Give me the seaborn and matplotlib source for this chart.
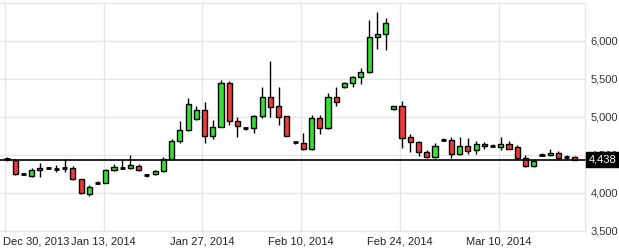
import matplotlib
matplotlib.use("Agg")
import matplotlib.pyplot as plt
import seaborn as sns
import numpy as np
import pandas as pd

# ---- data ----
opens = [4445, 4438, 4247, 4227, 4303, 4327, 4322, 4327, 4325, 4180,
         3991, 4129, 4127, 4298, 4330, 4325, 4359, 4245, 4246, 4285,
         4451, 4688, 4825, 4970, 5088, 4750, 4868, 5443, 4943, 4855,
         4855, 5009, 5259, 5141, 5009, 4670, 4654, 4575, 4983, 4851,
         5259, 5391, 5443, 5522, 5592, 6049, 6092, 5101, 5141, 4737,
         4667, 4535, 4470, 4699, 4701, 4509, 4622, 4561, 4644, 4620,
         4601, 4644, 4601, 4464, 4355, 4502, 4496, 4530, 4472, 4475]
closes = [4443, 4246, 4245, 4298, 4329, 4325, 4320, 4325, 4184, 3996,
          4079, 4127, 4298, 4338, 4335, 4364, 4298, 4241, 4285, 4451,
          4688, 4825, 5167, 5088, 4750, 4868, 5443, 4947, 4877, 4850,
          5013, 5259, 5136, 5004, 4754, 4665, 4575, 4983, 4851, 5259,
          5193, 5443, 5526, 5588, 6049, 6092, 6233, 5141, 4720, 4667,
          4535, 4470, 4614, 4697, 4509, 4622, 4556, 4640, 4614, 4617,
          4644, 4583, 4464, 4351, 4425, 4500, 4526, 4456, 4468, 4438]
highs = [4470, 4445, 4252, 4325, 4390, 4336, 4368, 4445, 4359, 4185,
         4105, 4158, 4315, 4378, 4430, 4496, 4378, 4255, 4302, 4473,
         4710, 4947, 5254, 5145, 5197, 4960, 5487, 5474, 5000, 4868,
         5022, 5391, 5737, 5399, 5015, 4675, 4789, 5026, 5026, 5316,
         5391, 5460, 5540, 5641, 6276, 6382, 6307, 5141, 5215, 4776,
         4690, 4568, 4654, 4724, 4741, 4733, 4720, 4684, 4670, 4650,
         4737, 4684, 4627, 4500, 4430, 4520, 4575, 4550, 4500, 4490]
lows = [4420, 4233, 4240, 4214, 4214, 4318, 4272, 4272, 4175, 3990,
        3960, 4125, 4125, 4295, 4320, 4322, 4295, 4214, 4240, 4280,
        4434, 4662, 4820, 4965, 4662, 4706, 4865, 4890, 4733, 4825,
        4789, 4990, 5004, 4899, 4745, 4640, 4570, 4570, 4781, 4845,
        5149, 5385, 5391, 5430, 5575, 5899, 5882, 5098, 4596, 4543,
        4491, 4456, 4465, 4692, 4464, 4505, 4513, 4513, 4575, 4600,
        4566, 4575, 4451, 4340, 4345, 4495, 4490, 4440, 4440, 4432]
tick_labels = ["Dec 30, 2013", "Jan 13, 2014", "Jan 27, 2014",
               "Feb 10, 2014", "Feb 24, 2014", "Mar 10, 2014"]
tick_index = [0, 12, 24, 36, 48, 60]
y_ticks = [3500, 4000, 4500, 5000, 5500, 6000]
last_price = 4438

df = pd.DataFrame({"open": opens, "high": highs, "low": lows, "close": closes})
df["i"] = np.arange(len(df))

sns.set_style("white")
plt.rcParams["font.family"] = ["Liberation Sans", "DejaVu Sans"]

fig = plt.figure(figsize=(6.19, 2.52), dpi=100)
ax = fig.add_axes([0.0, 1 - 231 / 252, 585 / 619, 228 / 252])

GREEN = "#33e033"
RED = "#f03a3a"
W = 0.62

# wicks
ax.vlines(df["i"], df["low"], df["high"], color="black", lw=1, zorder=3)
# bodies
up = df["close"] >= df["open"]
bottom = np.minimum(df["open"], df["close"])
height = np.abs(df["close"] - df["open"])
colors = [GREEN if u else RED for u in up]
big = height >= 12
ax.bar(df["i"][big], height[big], bottom=bottom[big], width=W,
       color=[c for c, b in zip(colors, big) if b], edgecolor="black",
       linewidth=1, zorder=4)
small = ~big
ax.hlines((df["open"][small] + df["close"][small]) / 2,
          df["i"][small] - W / 2, df["i"][small] + W / 2,
          color="black", lw=2, zorder=4)

# last price line
ax.axhline(last_price, color="black", lw=1.2, zorder=5, clip_on=False)

ax.set_xlim(-0.85, 70.23)
ax.set_ylim(3500, 6500)

grid_x = [t - 0.25 for t in tick_index]
ax.set_xticks(grid_x)
ax.set_xticklabels(tick_labels)
ax.set_yticks(y_ticks)
ax.set_yticklabels([f"{v:,}" for v in y_ticks])
ax.yaxis.tick_right()
ax.grid(True, color="#e6e6e6", lw=1)
ax.set_axisbelow(True)
ax.tick_params(axis="both", length=0, labelsize=8, colors="#333333")
ax.tick_params(axis="y", pad=4)
ax.tick_params(axis="x", pad=4)
xl = ax.get_xticklabels()
xl[0].set_ha("left")
for t in xl:
    t.set_color("#222222")

for s in ["top", "right", "bottom"]:
    ax.spines[s].set_color("#e6e6e6")
    ax.spines[s].set_linewidth(1)
ax.spines["left"].set_visible(False)

# offset first label so it starts at the left edge
import matplotlib.transforms as mtrans
xl[0].set_transform(xl[0].get_transform() + mtrans.ScaledTranslation(-2 / 100, 0, fig.dpi_scale_trans))

# last price box
ax.annotate(f"{last_price:,}", xy=(1.0, last_price), xycoords=("axes fraction", "data"),
            xytext=(2.5, 0), textcoords="offset points", ha="left", va="center",
            fontsize=8, color="white", zorder=10, annotation_clip=False,
            bbox=dict(boxstyle="square,pad=0.25", fc="black", ec="black"))

fig.savefig("out.png", dpi=100)
